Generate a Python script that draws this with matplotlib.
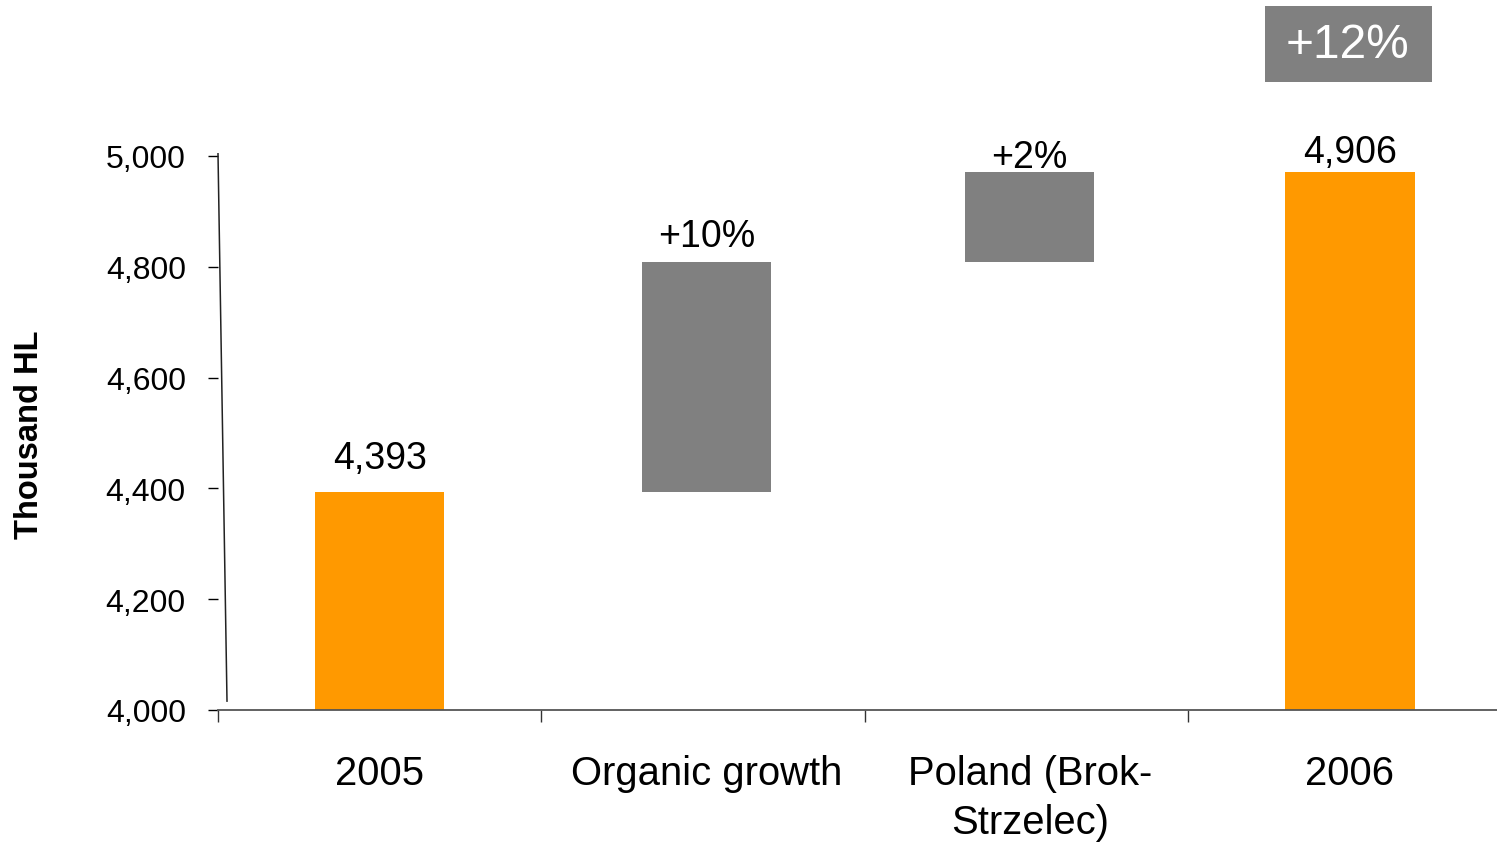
import matplotlib
matplotlib.use("Agg")
import matplotlib.pyplot as plt
from matplotlib.patches import Rectangle

plt.rcParams['font.family'] = ['Liberation Sans', 'DejaVu Sans']

### ---Data
categories = ['2005', 'Organic growth', 'Poland (Brok-\nStrzelec)', '2006']
bar_bottoms = [4000, 4393, 4809, 4000]
bar_tops = [4393, 4809, 4971, 4971]
value_labels = ['4,393', '+10%', '+2%', '4,906']
label_offsets_px = [24, 16, 5, 10]
is_total = [True, False, False, True]
total_change = '+12%'
yticks = [4000, 4200, 4400, 4600, 4800, 5000]

ORANGE = '#FF9900'
GREY = '#808080'

### ---Figure
W, H = 1497, 845
fig = plt.figure(figsize=(W / 100, H / 100), dpi=100)
ax = fig.add_axes([218 / W, (H - 711) / H, (W - 218) / W, 554 / H])

x = [0, 1.01, 2.01, 3]
heights = [t - b for t, b in zip(bar_tops, bar_bottoms)]
colors = [ORANGE if t else GREY for t in is_total]
ax.bar(x, heights, bottom=bar_bottoms, width=0.40, color=colors, zorder=1)

for xi, top, lab, off in zip(x, bar_tops, value_labels, label_offsets_px):
	ax.annotate(lab, (xi, top), xytext=(0, off * 0.72), textcoords='offset points',
		ha='center', va='baseline', fontsize=27)

ax.set_xlim(-0.5, 3.455)
ax.set_ylim(4000, 5000)

# y axis
ax.set_yticks(yticks)
ax.set_yticklabels([f'{v:,}' for v in yticks])
ax.tick_params(axis='y', direction='out', length=7.2, width=1, pad=16, labelsize=23, colors='black')

# x axis: ticks on category boundaries, labels at centres
ax.set_xticks([-0.5, 0.5, 1.5, 2.5])
ax.set_xticklabels([])
ax.set_xticks(x, minor=True)
ax.set_xticklabels(categories, minor=True, fontsize=28.8, linespacing=1.35)
ax.tick_params(axis='x', which='major', direction='out', length=8.6, width=1, color='#333333')
ax.tick_params(axis='x', which='minor', length=0, pad=32)

for s in ['top', 'right', 'left']:
	ax.spines[s].set_visible(False)
ax.spines['bottom'].set_color('#555555')
ax.spines['bottom'].set_linewidth(1.3)
ax.spines['bottom'].set_zorder(3)

# slightly slanted y axis line as in the original
ax.plot([0, 9 / 1279], [1.004, 0.016], transform=ax.transAxes, color='#222222',
	lw=1.1, clip_on=False)

fig.text(30 / W, 1 - 435 / H, 'Thousand HL', rotation=90, ha='center', va='center',
	fontsize=23.5, fontweight='bold')

# total change box
fig.patches.append(Rectangle((1265 / W, 1 - 83 / H), 167 / W, 76 / H,
	transform=fig.transFigure, facecolor=GREY, edgecolor='none'))
fig.text(1348 / W, 1 - 45 / H, total_change, ha='center', va='center',
	fontsize=34.5, color='white')

fig.savefig('out.png', dpi=100)
